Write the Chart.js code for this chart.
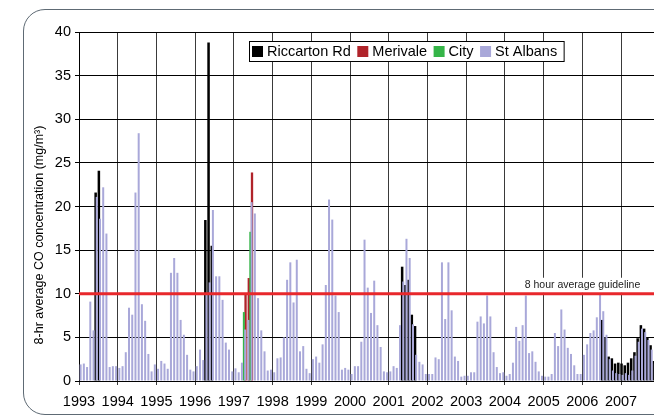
<!DOCTYPE html>
<html><head><meta charset="utf-8">
<script src="https://cdn.jsdelivr.net/npm/chart.js@4.4.1/dist/chart.umd.min.js"></script>
<style>
html,body{margin:0;padding:0;background:#fff;overflow:hidden;width:654px;height:417px;}
#frame{position:absolute;left:23px;top:9px;width:720px;height:406px;border:1.3px solid #5e6a74;border-radius:22px;box-sizing:border-box;}
#c{position:absolute;left:0;top:0;}
</style></head><body>
<div id="frame"></div>
<canvas id="c" width="654" height="417"></canvas>
<script>
// ---------- data ----------
const startYear = 1993;
const years = [1993,1994,1995,1996,1997,1998,1999,2000,2001,2002,2003,2004,2005,2006,2007];
const seriesNames = ['Riccarton Rd','Merivale','City','St Albans'];

// St Albans monthly values, Jan 1993 .. Nov 2007
const stAlbans = [
  1.9, 2.0, 1.6, 9.1, 5.8, 21.1, 18.6, 22.2, 16.9, 1.6, 1.7, 1.7,   // 1993
  1.5, 1.7, 3.3, 8.4, 7.6, 21.6, 28.4, 8.8, 6.9, 3.1, 1.1, 1.9,     // 1994
  1.4, 2.3, 2.0, 1.4, 12.4, 14.1, 12.4, 7.0, 5.3, 3.0, 1.3, 1.1,    // 1995
  1.7, 3.6, 2.4, 10.0, 11.3, 19.6, 12.0, 12.0, 9.3, 4.4, 3.6, 1.1,  // 1996
  1.45, 1.0, 2.1, 5.9, 7.0, 20.5, 19.2, 9.5, 5.8, 3.4, 1.2, 1.3,    // 1997
  1.0, 2.6, 2.7, 5.0, 11.6, 13.6, 9.0, 13.9, 3.4, 4.0, 1.4, 0.9,    // 1998
  2.5, 2.8, 2.1, 4.2, 11.0, 20.8, 18.5, 9.8, 7.9, 1.3, 1.5, 1.3,    // 1999
  0.8, 1.7, 1.7, 4.5, 16.2, 10.7, 7.8, 11.5, 6.4, 3.9, 1.1, 1.0,    // 2000
  1.1, 1.7, 1.5, 6.4, 11.4, 16.3, 14.1, 6.5, 3.0, 2.2, 1.9, 0.8,    // 2001
  0.8, 0.8, 2.7, 2.5, 13.6, 7.1, 13.6, 8.1, 2.8, 2.3, 0.5, 0.6,     // 2002
  0.6, 1.0, 1.0, 6.8, 7.4, 6.6, 9.8, 7.4, 3.3, 1.6, 0.9, 1.0,       // 2003
  0.6, 0.8, 2.1, 6.2, 4.6, 6.4, 9.8, 3.2, 3.4, 2.2, 1.1, 0.6,       // 2004
  0.5, 0.5, 0.8, 5.5, 4.0, 8.2, 5.9, 3.8, 3.1, 1.8, 0.8, 0.8,       // 2005
  3.0, 4.2, 5.5, 5.8, 7.3, 9.9, 8.0, 5.3, 2.5, 1.2, 0.9, 0.8,       // 2006
  0.7, 0.9, 0.7, 1.2, 2.9, 4.5, 6.0, 5.6, 4.7, 3.6, 2.0             // 2007
];

const riccartonMonths = ['1993-06','1993-07',
  '1996-04','1996-05','1996-06',
  '2001-05','2001-06','2001-07','2001-08','2001-09',
  '2006-07','2006-08','2006-09','2006-10','2006-11','2006-12',
  '2007-01','2007-02','2007-03','2007-04','2007-05','2007-06','2007-07','2007-08','2007-09','2007-10','2007-11'];
const riccartonValues = [21.6, 24.1,
  18.45, 38.8, 15.5,
  13.1, 11.0, 11.6, 7.6, 6.3,
  7.0, 5.0, 2.8, 2.6, 2.0, 2.1,
  2.0, 1.8, 2.1, 2.6, 3.3, 4.9, 6.4, 6.0, 5.0, 4.1, 2.3];

const merivaleMonths = ['1997-04','1997-05','1997-06'];
const merivaleValues = [9.9, 11.8, 23.9];

const cityMonths = ['1997-04','1997-05','1997-06'];
const cityValues = [7.9, null, 17.1];

const guidelineValue = 10;
const guidelineLabel = '8 hour average guideline';
const yTitle = '8-hr average CO concentration (mg/m³)';
const yTicks = [0,5,10,15,20,25,30,35,40];

// ---------- build ----------
const colors = ['#000000','#b0232a','#35b548','#a9a8d9'];
const xMin = 1993, xMax = 2007.852;
const pxPerYear = 575 / (xMax - xMin);
function monthX(s){ const [y,m] = s.split('-').map(Number); return y + (m - 0.5) / 12; }
function pairs(months, vals){ return months.map((m,i)=>({x: monthX(m), y: vals[i]})); }
const albansData = stAlbans.map((v,i)=>({x: startYear + (i + 0.5) / 12, y: v}));

// small horizontal shifts of series (in px) emulate the original's overlapping bars
const shifts = {xk: -1.1, xr: 0.4, xg: -1.3};
function hiddenAxis(id){
  const off = -shifts[id] / pxPerYear;
  return {type:'linear', display:false, position:'bottom', min: xMin + off, max: xMax + off, offset:false, grid:{offset:false}};
}
const FONT = '"Liberation Sans", Arial, sans-serif';

const decor = {
  id: 'decor',
  afterDatasetsDraw(chart){
    const {ctx, chartArea:a} = chart;
    const gy = chart.scales.y.getPixelForValue(guidelineValue);
    ctx.save();
    ctx.font = '10.5px ' + FONT;
    const tw = ctx.measureText(guidelineLabel).width;
    const cx = 582.5;
    ctx.fillStyle = '#ffffff';
    ctx.fillRect(cx - tw/2 - 7, gy - 16, tw + 14, 15);
    ctx.fillStyle = '#222222';
    ctx.textAlign = 'center'; ctx.textBaseline = 'alphabetic';
    ctx.fillText(guidelineLabel, cx, gy - 5.5);
    ctx.strokeStyle = '#e8282c'; ctx.lineWidth = 3;
    ctx.beginPath(); ctx.moveTo(a.left, gy); ctx.lineTo(a.right, gy); ctx.stroke();
    ctx.restore();
  },
  afterDraw(chart){
    const {ctx} = chart;
    ctx.save();
    // legend
    ctx.font = '14.5px ' + FONT;
    const bx = 249, by = 41, bh = 20;
    let x = bx + 3;
    const items = seriesNames.map((n,i)=>{ const it = {x, n, c: colors[i]}; x += 15 + ctx.measureText(n).width + 6.5; return it; });
    const bw = x - bx;
    ctx.fillStyle = '#fff'; ctx.fillRect(bx, by, bw, bh);
    ctx.strokeStyle = '#000'; ctx.lineWidth = 1; ctx.strokeRect(bx + 0.5, by + 0.5, bw, bh);
    items.forEach(it=>{
      ctx.fillStyle = it.c; ctx.fillRect(it.x, by + 5, 11, 11);
      ctx.fillStyle = '#000'; ctx.textBaseline = 'middle'; ctx.textAlign = 'left';
      ctx.fillText(it.n, it.x + 15, by + bh/2 + 1);
    });
    // y title
    ctx.translate(40, 235);
    ctx.rotate(-Math.PI/2);
    ctx.font = '12.5px ' + FONT;
    ctx.fillStyle = '#000'; ctx.textAlign = 'center'; ctx.textBaseline = 'middle';
    ctx.fillText(yTitle, 0, 0);
    ctx.restore();
  }
};

new Chart(document.getElementById('c'), {
  type: 'bar',
  data: {
    datasets: [
      {label: seriesNames[0], data: pairs(riccartonMonths, riccartonValues), xAxisID:'xk', yAxisID:'y', backgroundColor: colors[0], order: 3, grouped:false, barPercentage:0.78, categoryPercentage:1},
      {label: seriesNames[1], data: pairs(merivaleMonths, merivaleValues), xAxisID:'xr', yAxisID:'y', backgroundColor: colors[1], order: 2, grouped:false, barPercentage:0.72, categoryPercentage:1},
      {label: seriesNames[2], data: pairs(cityMonths, cityValues), xAxisID:'xg', yAxisID:'y', backgroundColor: colors[2], order: 1, grouped:false, barPercentage:0.62, categoryPercentage:1},
      {label: seriesNames[3], data: albansData, xAxisID:'x', yAxisID:'y', backgroundColor: colors[3], order: 0, grouped:false, barPercentage:0.62, categoryPercentage:1}
    ]
  },
  options: {
    responsive: false, animation: false, devicePixelRatio: 1,
    layout: {padding: {top: 32, left: 0, right: 0, bottom: 0}},
    plugins: {legend: {display: false}, tooltip: {enabled: false}},
    scales: {
      x: {
        type: 'linear', position: 'bottom', min: xMin, max: xMax, offset: false,
        grid: {offset: false, color: '#3a3a3a', lineWidth: 1, tickLength: 4, drawTicks: true},
        border: {display: true, color: '#000', width: 1},
        ticks: {includeBounds: false, autoSkip: false, maxRotation: 0, padding: 8, color: '#000',
                font: {family: FONT, size: 14.5}, callback: v => String(Math.round(v))},
        afterBuildTicks: s => { s.ticks = years.map(v => ({value: v})); },
        afterFit: s => { s.height = 36; }
      },
      xk: hiddenAxis('xk'), xr: hiddenAxis('xr'), xg: hiddenAxis('xg'),
      y: {
        type: 'linear', min: 0, max: 40,
        grid: {color: '#000', lineWidth: 1, tickLength: 4},
        border: {display: true, color: '#000', width: 1},
        ticks: {stepSize: 5, padding: 4, color: '#000', font: {family: FONT, size: 14.5}},
        afterBuildTicks: s => { s.ticks = yTicks.map(v => ({value: v})); },
        afterFit: s => { s.width = 79; }
      }
    }
  },
  plugins: [decor]
});
</script>
</body></html>
